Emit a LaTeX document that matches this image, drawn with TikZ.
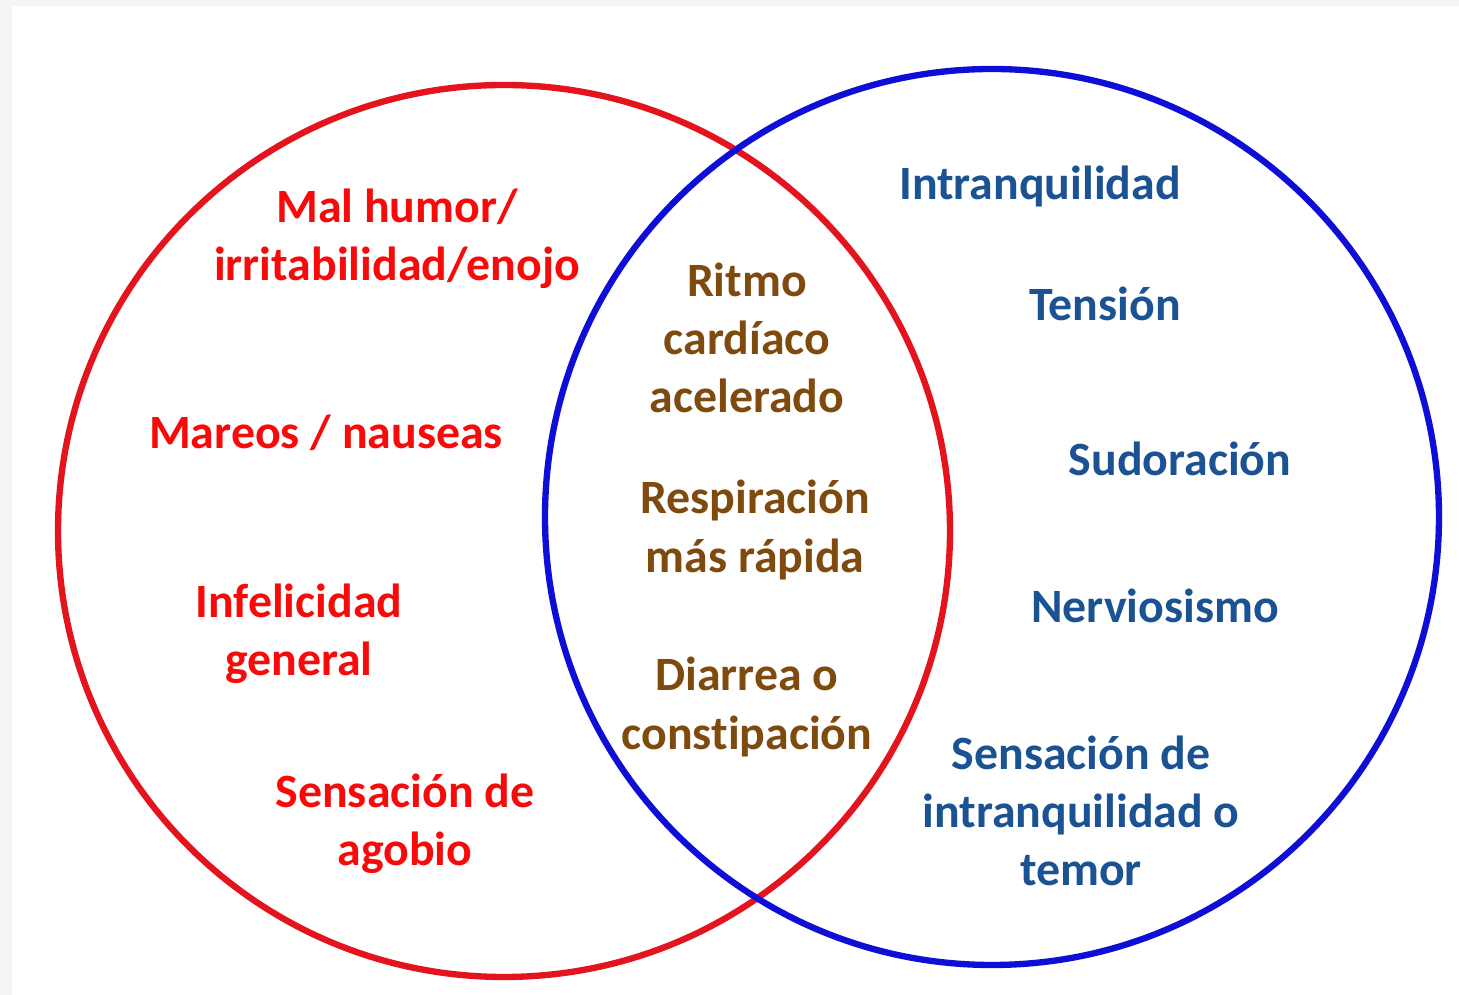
\documentclass[tikz,border=0pt]{standalone}
\usepackage{fontspec}
\setmainfont[Ligatures=NoCommon]{Carlito}
\definecolor{pagegray}{HTML}{F5F5F5}
\definecolor{ringred}{HTML}{E3141E}
\definecolor{ringblue}{HTML}{0E0ED6}
\definecolor{txtred}{HTML}{F80A0A}
\definecolor{txtbrown}{HTML}{7E4A0E}
\definecolor{txtblue}{HTML}{1B5294}

\begin{document}
\begin{tikzpicture}[x=0.01cm,y=-0.01cm,
    ring/.style={line width=1.8pt},
    lbl/.style={font=\fontsize{13.6pt}{16.5pt}\selectfont\bfseries, align=center, inner sep=0pt},
    leftlbl/.style={lbl, txtred},
    midlbl/.style={lbl, txtbrown},
    rightlbl/.style={lbl, txtblue}]
    \fill[pagegray] (0,0) rectangle (1459,995);
    \fill[white] (12,6) rectangle (1459,995);
    \useasboundingbox (0,0) rectangle (1459,995);
    % the two sets
    \draw[ring, ringred] (504,531) ellipse [x radius=446, y radius=446];
    \draw[ring, ringblue] (992,517) ellipse [x radius=447, y radius=448];
    % left only
    \node[leftlbl] (humor) at (397,239) {Mal humor/\\irritabilidad/enojo};
    \node[leftlbl] (mareos) at (326,433) {Mareos / nauseas};
    \node[leftlbl] (infel) at (299,634) {Infelicidad\\general};
    \node[leftlbl] (agobio) at (405,824) {Sensación de\\agobio};
    % both
    \node[midlbl] (ritmo) at (747,338) {Ritmo\\cardíaco\\acelerado};
    \node[midlbl] (resp) at (755,530) {Respiración\\más rápida};
    \node[midlbl] (diarrea) at (747,707) {Diarrea o\\constipación};
    % right only
    \node[rightlbl] (intranq) at (1040,186) {Intranquilidad};
    \node[rightlbl] (tension) at (1105,304) {Tensión};
    \node[rightlbl] (sudor) at (1180,459) {Sudoración};
    \node[rightlbl] (nervios) at (1155,606) {Nerviosismo};
    \node[rightlbl] (temor) at (1081,811) {Sensación de\\intranquilidad o\\temor};
\end{tikzpicture}
\end{document}
